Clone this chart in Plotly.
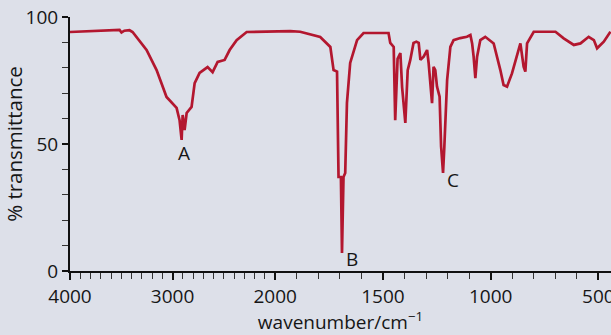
import plotly.graph_objects as go

# IR spectrum (wavenumber in cm^-1, % transmittance)
wavenumber = [4000, 3800, 3600, 3517, 3498, 3470, 3420, 3390, 3254, 3156,
              3059, 2961, 2932, 2912, 2902, 2883, 2863, 2815, 2785, 2737,
              2659, 2610, 2561, 2493, 2444, 2376, 2278, 2100, 2000, 1930,
              1884, 1791, 1744, 1729, 1713, 1711, 1706, 1695, 1690, 1683,
              1675, 1667, 1652, 1620, 1590, 1474, 1466, 1450, 1443, 1432,
              1419, 1411, 1396, 1385, 1373, 1358, 1345, 1334, 1326, 1311,
              1295, 1288, 1280, 1272, 1265, 1257, 1249, 1237, 1230, 1221,
              1215, 1202, 1187, 1172, 1141, 1110, 1094, 1086, 1079, 1071,
              1063, 1048, 1025, 986, 955, 940, 924, 901, 862, 847,
              839, 831, 800, 699, 661, 614, 583, 545, 521, 506,
              475, 444]
transmittance = [94.1, 94.5, 94.9, 94.9, 93.9, 94.6, 94.8, 94.1, 87.0, 79.1,
                 68.5, 64.2, 59.4, 51.6, 61.4, 55.5, 62.2, 64.6, 74.0, 78.0,
                 80.3, 78.3, 82.3, 83.1, 87.0, 90.9, 94.1, 94.3, 94.3, 94.4,
                 94.2, 92.1, 88.2, 79.1, 78.5, 66.1, 37.0, 37.0, 7.1, 37.0,
                 38.6, 66.1, 81.9, 90.9, 93.7, 93.7, 89.8, 88.2, 59.4, 83.5,
                 85.8, 72.4, 58.3, 79.1, 83.1, 89.8, 90.3, 89.8, 83.1, 84.4,
                 87.0, 82.0, 72.6, 66.1, 80.4, 79.1, 72.6, 68.6, 49.0, 38.6,
                 48.8, 75.2, 88.2, 90.9, 91.7, 92.2, 92.9, 89.6, 84.4, 75.9,
                 84.4, 90.9, 92.2, 89.6, 79.1, 73.2, 72.6, 77.8, 89.6, 80.4,
                 78.5, 89.6, 94.2, 94.2, 91.6, 89.0, 89.6, 92.2, 90.9, 87.7,
                 90.3, 94.2]

x_tick_labels = [4000, 3000, 2000, 1500, 1000, 500]
y_tick_labels = [0, 50, 100]
peak_labels = ["A", "B", "C"]
peak_wavenumber = [2893, 1642, 1173]
peak_transmittance = [46.5, 4.7, 35.8]


def u(w):
    # IR charts use an expanded scale below 2000 cm^-1
    return 4000 - w if w >= 2000 else 2000 + 2.1 * (2000 - w)


xs = [u(w) for w in wavenumber]
FONT = "Open Sans"
TXT = "#161616"

fig = go.Figure()
fig.add_trace(go.Scatter(x=xs, y=transmittance, mode="lines",
                         line=dict(color="#b3172f", width=2.7), hoverinfo="skip"))

for lab, w, t in zip(peak_labels, peak_wavenumber, peak_transmittance):
    fig.add_annotation(x=u(w), y=t, text=lab, showarrow=False,
                       font=dict(family=FONT, size=19, color=TXT))

fig.update_layout(
    width=611, height=335,
    margin=dict(l=70, r=0, t=17, b=64),
    paper_bgcolor="#dde0e9", plot_bgcolor="#dde0e9",
    showlegend=False,
    font=dict(family=FONT, size=19, color=TXT),
)
fig.update_xaxes(
    range=[0, 5273], showgrid=False, zeroline=False, automargin=False,
    showline=True, linecolor="#111", linewidth=2,
    tickmode="array", tickvals=[u(w) for w in x_tick_labels],
    ticktext=[str(w) for w in x_tick_labels], ticklabeloverflow="allow",
    ticks="outside", ticklen=7, tickwidth=1.5, tickcolor="#111",
    minor=dict(tickmode="array", tickvals=[u(w) for w in range(4000, 440, -100)],
               ticks="outside", ticklen=6, tickwidth=1, tickcolor="#333"),
    tickfont=dict(family=FONT, size=19, color=TXT),
    title=dict(text="wavenumber/cm<sup>−1</sup>", standoff=16,
               font=dict(family=FONT, size=19, color=TXT)),
)
fig.update_yaxes(
    range=[0, 100], showgrid=False, zeroline=False, automargin=False,
    showline=True, linecolor="#111", linewidth=2,
    tickmode="array", tickvals=y_tick_labels,
    ticks="outside", ticklen=6, tickwidth=1.5, tickcolor="#111",
    minor=dict(dtick=10, ticks="outside", ticklen=6, tickwidth=1, tickcolor="#333"),
    tickfont=dict(family=FONT, size=19, color=TXT),
    title=dict(text="% transmittance", standoff=0,
               font=dict(family=FONT, size=20.5, color=TXT)),
)
fig.write_html("out.html", config={"displayModeBar": False},
               post_script="document.body.style.margin='0px';")
